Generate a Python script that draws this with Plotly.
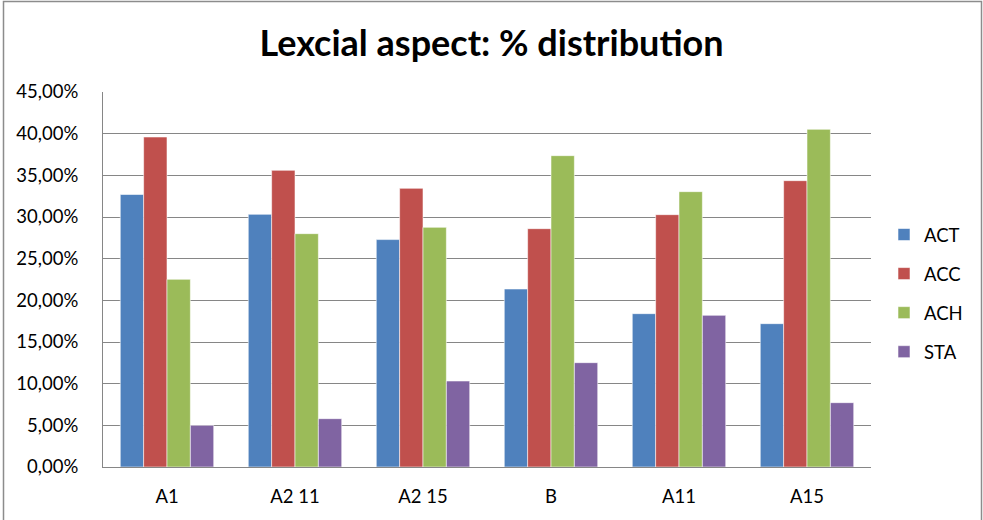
import plotly.graph_objects as go

# Categories and share of each lexical aspect class (fractions)
categories = ["A1", "A2 11", "A2 15", "B", "A11", "A15"]
act = [0.3270, 0.3032, 0.2729, 0.2136, 0.1840, 0.1720]
acc = [0.3960, 0.3560, 0.3344, 0.2860, 0.3028, 0.3436]
ach = [0.2252, 0.2800, 0.2876, 0.3736, 0.3304, 0.4052]
sta = [0.0500, 0.0580, 0.1032, 0.1252, 0.1820, 0.0772]

series_names = ["ACT", "ACC", "ACH", "STA"]
series_values = [act, acc, ach, sta]
series_colors = ["#4F81BD", "#C0504D", "#9BBB59", "#8064A2"]

W, H = 983, 520
ML, MR, MT, MB = 103, 112, 92, 53
PW, PH = W - ML - MR, H - MT - MB

def px_to_paper_x(px):
    return (px - ML) / PW

def px_to_paper_y(py):
    return (H - MB - py) / PH

FONT = "Lato, Carlito, 'Open Sans', sans-serif"
TXT = 18.5

fig = go.Figure()
for name, vals, col in zip(series_names, series_values, series_colors):
    fig.add_trace(go.Bar(
        x=categories, y=vals, name=name, legendgroup=name,
        marker=dict(color=col, line=dict(color="rgba(255,255,255,0.55)", width=1)),
    ))

fig.update_layout(
    width=W, height=H,
    margin=dict(l=ML, r=MR, t=MT, b=MB),
    paper_bgcolor="white", plot_bgcolor="white",
    barmode="group", bargap=0.27, bargroupgap=0,
    separators=", ",
    font=dict(family=FONT, size=TXT, color="#000000"),
    title=dict(
        text="<b>Lexcial aspect: % distribution</b>",
        x=0.5, xref="container", xanchor="center",
        y=1 - 43 / H, yref="container", yanchor="middle",
        font=dict(family=FONT, size=36, color="#000000"),
    ),
    xaxis=dict(
        showgrid=False, showline=True, linecolor="#868686", linewidth=1,
        ticks="", ticklabelstandoff=13,
        tickfont=dict(family=FONT, size=TXT, color="#000000"),
        fixedrange=True,
    ),
    yaxis=dict(
        range=[0, 0.45], dtick=0.05, tick0=0, tickformat=".2%",
        showgrid=True, gridcolor="#868686", gridwidth=1,
        showline=True, linecolor="#868686", linewidth=1,
        zeroline=False, ticks="", ticklabelstandoff=20,
        tickfont=dict(family=FONT, size=TXT, color="#000000"),
        fixedrange=True,
    ),
    legend=dict(
        x=px_to_paper_x(884), xanchor="left",
        y=px_to_paper_y(216), yanchor="top",
        font=dict(family=FONT, size=TXT, color="#000000"),
        tracegroupgap=12, itemwidth=30,
        bgcolor="rgba(0,0,0,0)",
    ),
    shapes=[dict(
        type="rect", xref="paper", yref="paper",
        x0=px_to_paper_x(3.5), x1=px_to_paper_x(981.5),
        y0=px_to_paper_y(530), y1=px_to_paper_y(1.5),
        line=dict(color="#8C8C8C", width=1.5), fillcolor="rgba(0,0,0,0)",
        layer="below",
    )],
)

fig.write_html("out.html")
